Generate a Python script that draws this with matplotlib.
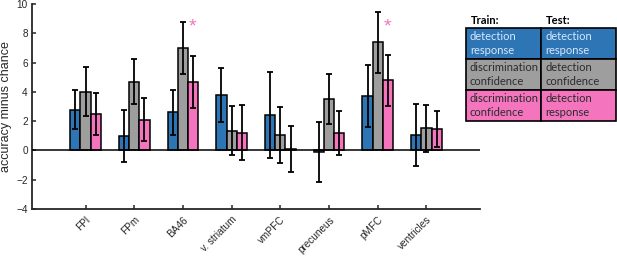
import numpy as np
import matplotlib
matplotlib.use("Agg")
import matplotlib.pyplot as plt
from matplotlib.patches import Rectangle

# data
regions = ['FPl', 'FPm', 'BA46', 'v. striatum', 'vmPFC', 'precuneus', 'pMFC', 'ventricles']
det_resp = [2.78, 0.98, 2.60, 3.78, 2.41, -0.10, 3.73, 1.05]
det_resp_err = [1.33, 1.80, 1.52, 1.85, 2.96, 2.05, 2.12, 2.12]
disc_conf = [4.02, 4.69, 6.99, 1.34, 1.05, 3.50, 7.38, 1.50]
disc_conf_err = [1.70, 1.53, 1.80, 1.68, 1.93, 1.71, 2.06, 1.60]
disc_to_resp = [2.48, 2.09, 4.67, 1.20, 0.09, 1.18, 4.78, 1.46]
disc_to_resp_err = [1.45, 1.46, 1.75, 1.88, 1.57, 1.48, 1.73, 1.22]
star_regions = ['BA46', 'pMFC']
star_level = 8.4

train_labels = ['detection\nresponse', 'discrimination\nconfidence', 'discrimination\nconfidence']
test_labels = ['detection\nresponse', 'detection\nconfidence', 'detection\nresponse']

blue = '#2E75B6'
gray = '#9E9E9E'
pink = '#F475BE'
colors = [blue, gray, pink]
axcol = '#262626'

plt.rcParams['font.family'] = ['Liberation Sans', 'DejaVu Sans']

W, H = 617, 260
fig = plt.figure(figsize=(W / 100, H / 100), dpi=100)
ax = fig.add_axes([32 / W, 51 / H, 448 / W, 205 / H])

x = np.arange(1, len(regions) + 1)
bw = 0.21
series = [(det_resp, det_resp_err), (disc_conf, disc_conf_err), (disc_to_resp, disc_to_resp_err)]
for k, (vals, errs) in enumerate(series):
    xs = x + (k - 1) * bw
    ax.bar(xs, vals, width=bw, color=colors[k], edgecolor='black', linewidth=1.1, zorder=2)
    ax.errorbar(xs, vals, yerr=errs, fmt='none', ecolor='black', elinewidth=1.3,
                capsize=2.5, capthick=1.3, zorder=3)

ax.axhline(0, color='black', linewidth=1.1, zorder=4)

for r in star_regions:
    i = regions.index(r)
    ax.text(x[i] + bw - 0.02, star_level, '*', color=pink, fontsize=14, ha='center', va='center')

ax.set_xlim(-0.1, 9.1)
ax.set_ylim(-4, 10)
ax.set_yticks(np.arange(-4, 11, 2))
ax.set_xticks(x)
ax.set_xticklabels(regions, rotation=45, ha='right', va='top', rotation_mode='anchor')
ax.tick_params(direction='in', length=3, width=1.1, colors=axcol, labelsize=7.2,
               labelcolor=axcol)
ax.tick_params(axis='x', pad=4)
ax.tick_params(axis='y', pad=3)
ax.set_ylabel('accuracy minus chance', fontsize=9, color=axcol, labelpad=3)
for s in ['top', 'right']:
    ax.spines[s].set_visible(False)
for s in ['left', 'bottom']:
    ax.spines[s].set_color(axcol)
    ax.spines[s].set_linewidth(1.3)

# train/test table drawn in figure pixels
tl, tm, tr = 466, 541, 616
row_tops = [28, 59, 90]
row_h = 31
text_cols = ['#D8E8F8', '#2B2B2B', '#2B2B2B']
tfont = ['Lato', 'DejaVu Sans']

def fx(px):
    return px / W

def fy(py):
    return 1 - py / H

fig.text(fx(471), fy(20), 'Train:', fontsize=8, fontweight='bold', family=tfont,
         ha='left', va='center')
fig.text(fx(546), fy(20), 'Test:', fontsize=8, fontweight='bold', family=tfont,
         ha='left', va='center')
for i, top in enumerate(row_tops):
    for (l, r), lab in zip([(tl, tm), (tm, tr)], [train_labels[i], test_labels[i]]):
        fig.patches.append(Rectangle((fx(l), fy(top + row_h)), fx(r - l), row_h / H,
                                     transform=fig.transFigure, facecolor=colors[i],
                                     edgecolor='black', linewidth=1.2))
        fig.text(fx(l + 4), fy(top + row_h / 2), lab, fontsize=8, family=tfont,
                 color=text_cols[i], ha='left', va='center', linespacing=1.3)

fig.savefig('out.png', dpi=100)
